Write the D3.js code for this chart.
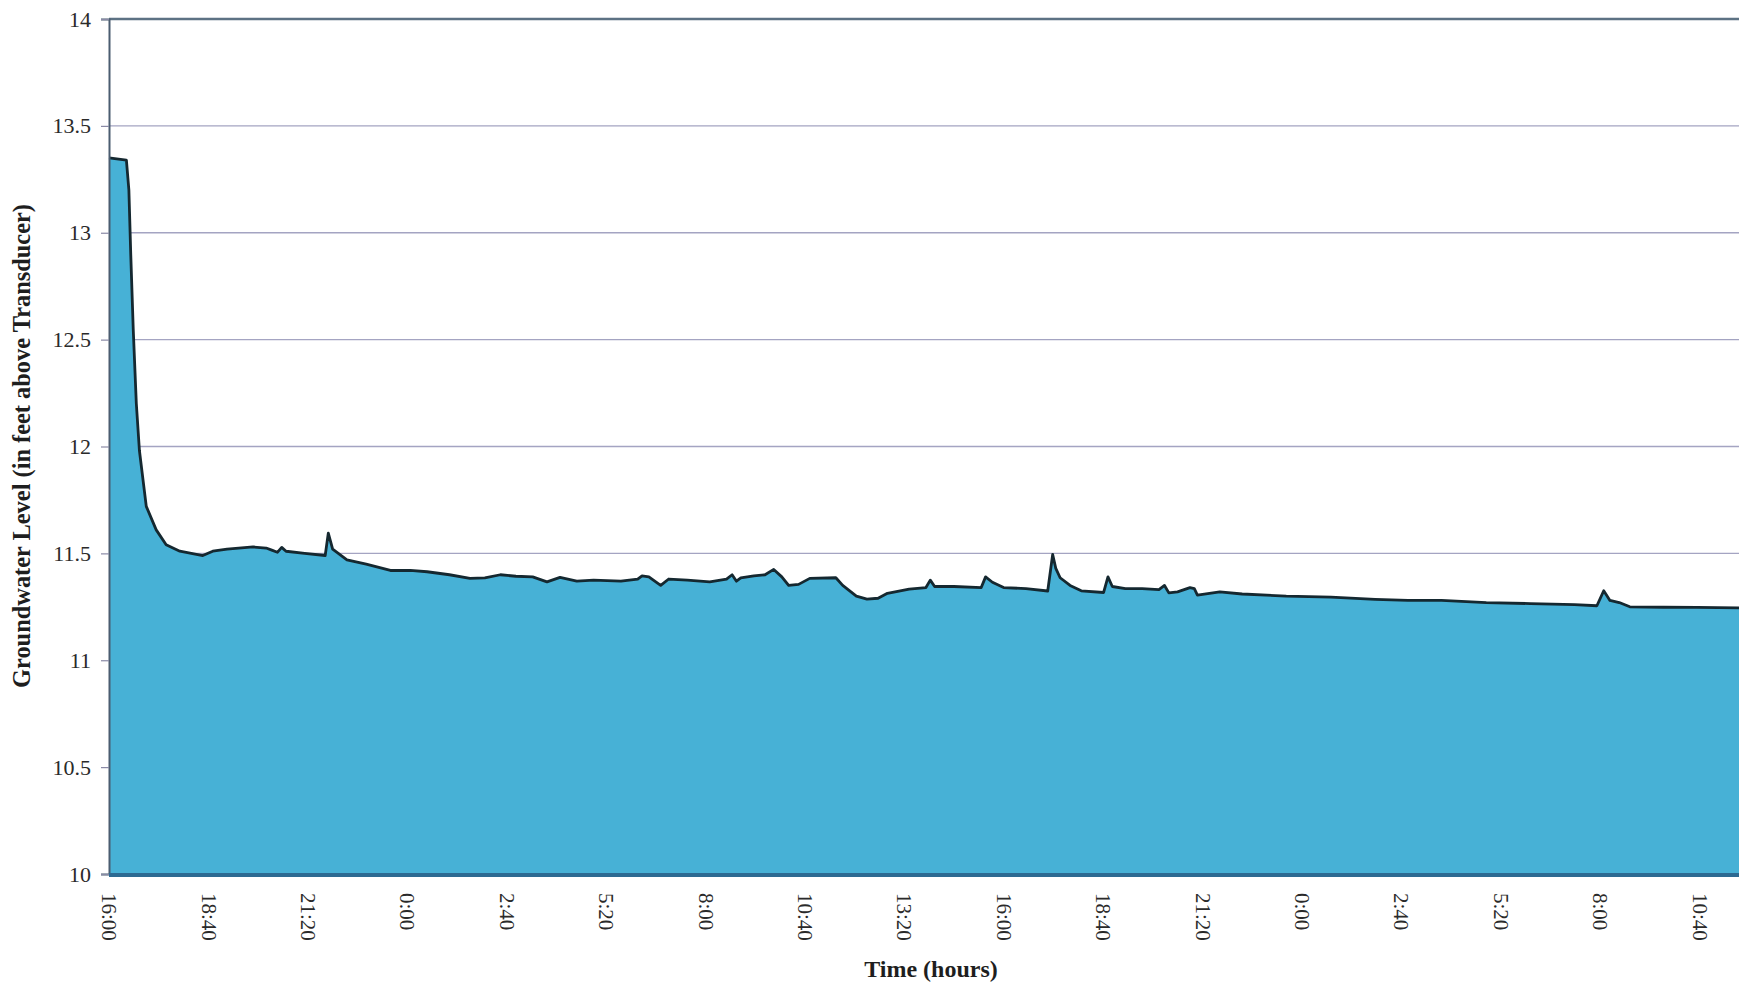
<!DOCTYPE html>
<html><head><meta charset="utf-8">
<script src="https://cdn.jsdelivr.net/npm/d3@7"></script>
<style>body{margin:0;background:#fff;overflow:hidden}</style></head>
<body><svg id="chart" width="1739" height="984"></svg>
<script>
// Minutes elapsed since the 16:00 start
const minutes = [0,28,32,35,39,44,49,60,76,92,114,151,167,190,232,253,262,271,278,285,315,348,353,360,383,414,453,485,512,548,581,605,630,655,682,705,726,753,780,824,851,858,869,888,901,931,967,994,1003,1010,1017,1038,1056,1070,1083,1094,1110,1128,1170,1181,1203,1220,1238,1253,1288,1315,1322,1329,1360,1404,1411,1422,1440,1476,1511,1519,1524,1531,1547,1565,1601,1608,1615,1636,1663,1690,1699,1706,1720,1740,1747,1752,1788,1824,1895,1967,2038,2091,2145,2217,2288,2359,2395,2406,2416,2431,2448,2502,2556,2623,2680];
// Groundwater level (feet above transducer)
const levels = [13.35,13.34,13.2,12.9,12.55,12.2,11.98,11.72,11.61,11.54,11.51,11.49,11.51,11.52,11.53,11.525,11.515,11.505,11.528,11.51,11.5,11.49,11.595,11.52,11.47,11.45,11.42,11.42,11.414,11.40,11.383,11.385,11.40,11.393,11.39,11.367,11.388,11.37,11.375,11.37,11.38,11.395,11.39,11.35,11.38,11.375,11.367,11.38,11.40,11.37,11.385,11.395,11.40,11.425,11.39,11.35,11.355,11.383,11.386,11.35,11.30,11.286,11.29,11.313,11.333,11.34,11.375,11.345,11.345,11.34,11.39,11.365,11.34,11.335,11.324,11.495,11.43,11.386,11.35,11.325,11.317,11.39,11.345,11.335,11.335,11.33,11.35,11.315,11.32,11.34,11.335,11.305,11.32,11.31,11.30,11.295,11.285,11.28,11.28,11.27,11.265,11.26,11.255,11.325,11.28,11.27,11.25,11.248,11.247,11.245,11.245];
const tickLabels = ["16:00","18:40","21:20","0:00","2:40","5:20","8:00","10:40","13:20","16:00","18:40","21:20","0:00","2:40","5:20","8:00","10:40"];
const tickStepMinutes = 160;
const yTicks = [10,10.5,11,11.5,12,12.5,13,13.5,14];
const yTitle = "Groundwater Level (in feet above Transducer)";
const xTitle = "Time (hours)";

(function(){
const data = minutes.map((t,i)=>({t, v: levels[i]}));
const svg = d3.select("#chart");
const plotLeft = 109, plotTop = 19, plotBottom = 874;
const pxPerMinute = 99.4 / tickStepMinutes;
const x = d3.scaleLinear().domain([0, 2720]).range([plotLeft, plotLeft + 2720*pxPerMinute]);
const y = d3.scaleLinear().domain([10,14]).range([plotBottom, plotTop]);
const serif = "'Liberation Serif','Times New Roman',serif";

svg.append("g").selectAll("line").data(yTicks.filter(d=>d>10 && d<14)).join("line")
  .attr("x1", plotLeft).attr("x2", 1739).attr("y1", d=>y(d)).attr("y2", d=>y(d))
  .attr("stroke", "#a4a4c2").attr("stroke-width", 1.4);

svg.append("path").datum(data)
  .attr("d", d3.area().x(d=>x(d.t)).y0(y(10)).y1(d=>y(d.v)))
  .attr("fill", "#47b1d6");
svg.append("path").datum(data)
  .attr("d", d3.line().x(d=>x(d.t)).y(d=>y(d.v)))
  .attr("fill", "none").attr("stroke", "#152830").attr("stroke-width", 2.8).attr("stroke-linejoin","round");

svg.append("line").attr("x1", plotLeft).attr("x2", 1739).attr("y1", y(14)).attr("y2", y(14))
  .attr("stroke", "#5d7284").attr("stroke-width", 2.4);

const yAxis = svg.append("g").attr("transform", `translate(${plotLeft},0)`)
  .call(d3.axisLeft(y).tickValues(yTicks).tickSize(8).tickPadding(10).tickFormat(d=>String(d)));
yAxis.select(".domain").attr("stroke", "#4b5d70").attr("stroke-width", 2);
yAxis.selectAll(".tick line").attr("stroke", "#8a8aa6").attr("stroke-width", 1.2);
yAxis.selectAll(".tick text").attr("font-family", serif).attr("font-size", 22).attr("fill", "#2a2a2a");

svg.append("line").attr("x1", plotLeft).attr("x2", 1739).attr("y1", y(10)+1).attr("y2", y(10)+1)
  .attr("stroke", "#2d6a92").attr("stroke-width", 4);

const xAxis = svg.append("g").attr("transform", `translate(0,${y(10)+3})`)
  .call(d3.axisBottom(x).tickValues(tickLabels.map((l,i)=>i*tickStepMinutes)).tickSize(0)
    .tickFormat((d,i)=>tickLabels[i]));
xAxis.select(".domain").remove();
xAxis.selectAll(".tick text")
  .attr("font-family", serif).attr("font-size", 21).attr("fill", "#2a2a2a")
  .attr("transform", "rotate(90)").attr("text-anchor", "start")
  .attr("x", 16).attr("y", 0).attr("dy", "0.35em");

svg.append("text").attr("x", 931).attr("y", 977).attr("text-anchor", "middle")
  .attr("font-family", serif).attr("font-weight", "bold").attr("font-size", 24).attr("fill", "#1e1e1e")
  .text(xTitle);
svg.append("text").attr("transform", "translate(30,446) rotate(-90)").attr("text-anchor", "middle")
  .attr("font-family", serif).attr("font-weight", "bold").attr("font-size", 24.4).attr("fill", "#1e1e1e")
  .text(yTitle);
})();
</script>
</body></html>
